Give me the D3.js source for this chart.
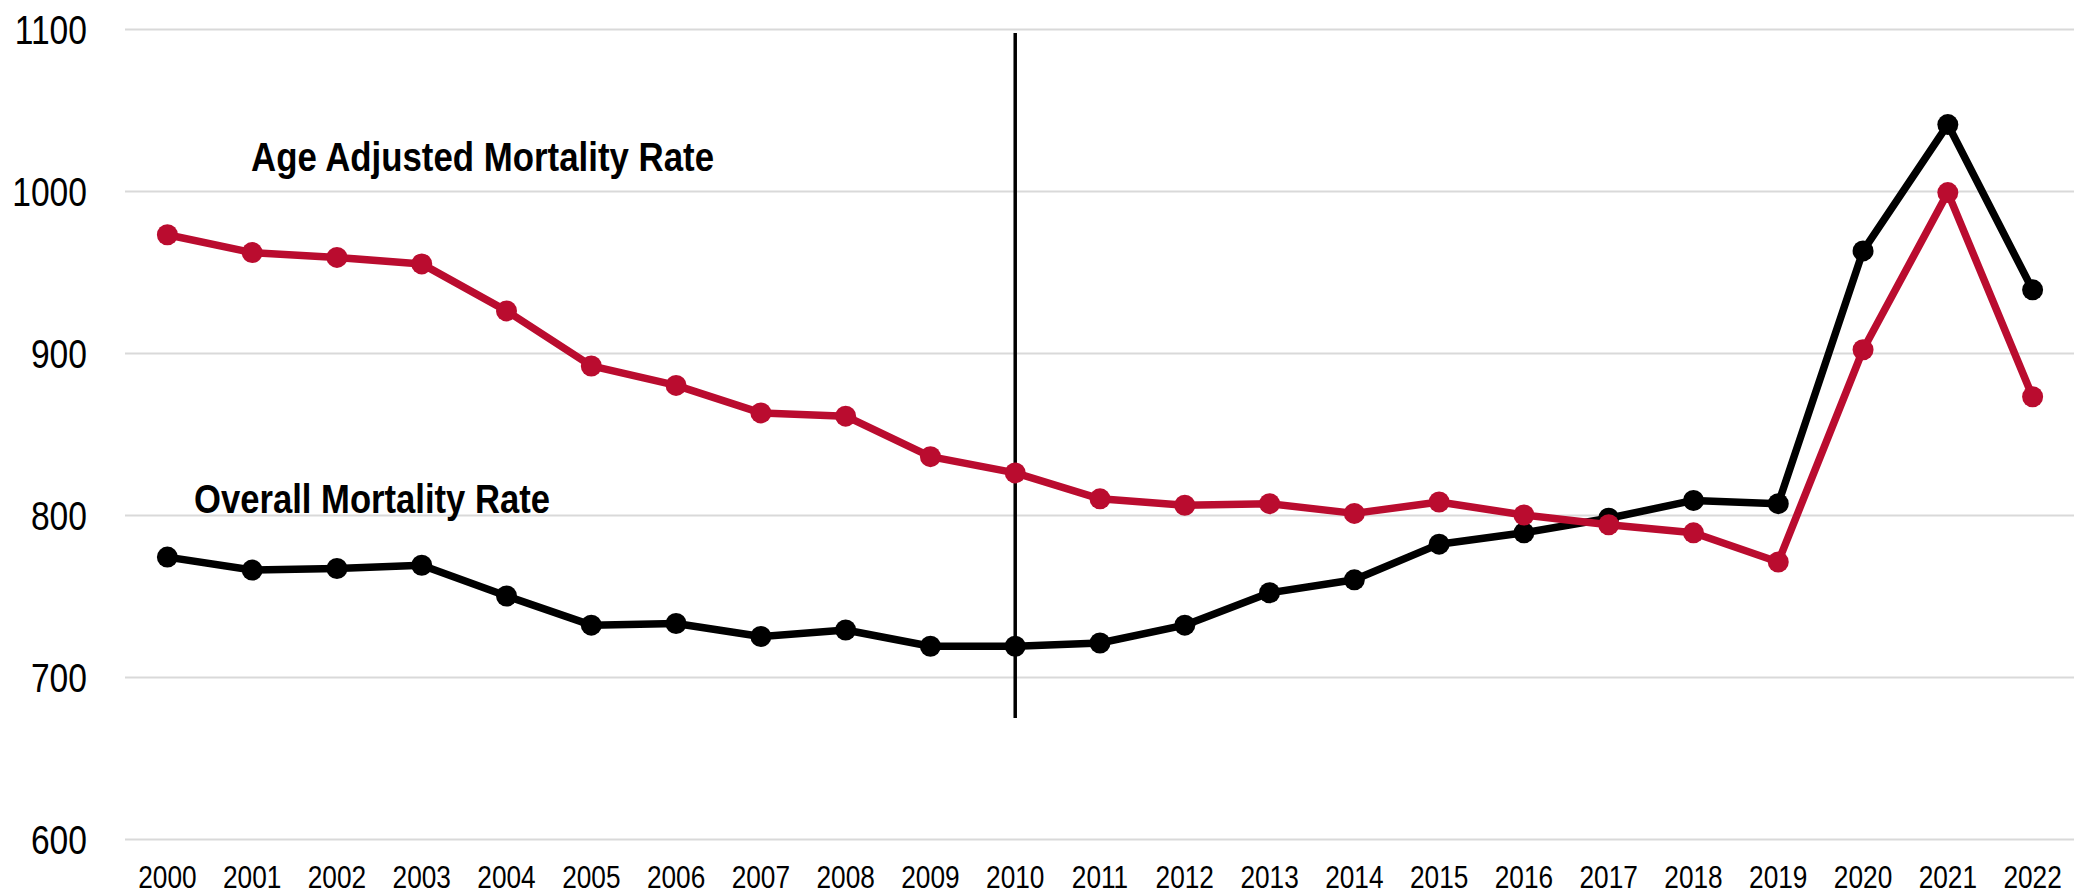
<!DOCTYPE html>
<html>
<head>
<meta charset="utf-8">
<script src="https://cdn.jsdelivr.net/npm/d3@7"></script>
<style>
  html, body { margin: 0; padding: 0; background: #fff; }
  svg text { font-family: 'Liberation Sans Narrow', 'Arial Narrow', 'Liberation Sans', Arial, sans-serif; fill: #000; }
</style>
</head>
<body>
<div id="chart"></div>
<script>
var years = ['2000', '2001', '2002', '2003', '2004', '2005', '2006', '2007', '2008', '2009', '2010',
             '2011', '2012', '2013', '2014', '2015', '2016', '2017', '2018', '2019', '2020', '2021', '2022'];

var overallRate = [774, 766, 767, 769, 750, 732, 733, 725, 729, 719, 719,
                   721, 732, 752, 760, 782, 789, 798, 809, 807, 963, 1041, 939];

var ageAdjustedRate = [973, 962, 959, 955, 926, 892, 880, 863, 861, 836, 826,
                       810, 806, 807, 801, 808, 800, 794, 789, 771, 902, 999, 873];

var yTicks = [600, 700, 800, 900, 1000, 1100];

var markerYear = '2010';

(function() {
  'use strict';

  var
    WIDTH = 2074,
    HEIGHT = 895,
    NARROW = 0.82,
    RED = '#ba0c2f',
    BLACK = '#000000';

  var svg = d3.select('#chart')
              .append('svg')
              .attr('width', WIDTH)
              .attr('height', HEIGHT);

  var x = d3.scaleBand()
            .domain(years)
            .range([125, 2075]);

  var y = d3.scaleLinear()
            .domain([600, 1100])
            .range([839, 29]);

  // grid + y labels
  var yAxis = d3.axisLeft(y)
                .tickValues(yTicks)
                .tickFormat(d3.format('d'))
                .tickSize(-(2074 - 125))
                .tickPadding(38);

  var gy = svg.append('g')
              .attr('transform', 'translate(125,0)')
              .call(yAxis);

  gy.select('.domain').remove();
  gy.selectAll('.tick line')
    .attr('stroke', '#d9d9d9')
    .attr('stroke-width', 2);
  gy.selectAll('.tick text')
    .attr('font-size', 41)
    .attr('x', -38 / NARROW)
    .attr('dy', '0.36em')
    .attr('transform', 'scale(' + NARROW + ',1)')
    .style('font-family', null);

  // x labels
  var xAxis = d3.axisBottom(x)
                .tickSize(0)
                .tickPadding(0);

  var gx = svg.append('g')
              .attr('transform', 'translate(0,865)')
              .call(xAxis);

  gx.select('.domain').remove();
  gx.selectAll('.tick text')
    .attr('font-size', 32)
    .attr('dy', '0.71em')
    .attr('transform', 'scale(' + NARROW + ',1)')
    .style('font-family', null);

  // vertical marker at 2010
  var cx = function(d, i) { return x(years[i]) + x.bandwidth() / 2; };

  svg.append('line')
     .attr('x1', x(markerYear) + x.bandwidth() / 2)
     .attr('x2', x(markerYear) + x.bandwidth() / 2)
     .attr('y1', 33)
     .attr('y2', 718)
     .attr('stroke', BLACK)
     .attr('stroke-width', 3.5);

  var drawSeries = function(values, color) {
    var line = d3.line()
                 .x(cx)
                 .y(function(d) { return y(d); });

    svg.append('path')
       .datum(values)
       .attr('fill', 'none')
       .attr('stroke', color)
       .attr('stroke-width', 7.5)
       .attr('stroke-linejoin', 'round')
       .attr('d', line);

    svg.append('g')
       .selectAll('circle')
       .data(values)
       .enter()
       .append('circle')
       .attr('cx', cx)
       .attr('cy', function(d) { return y(d); })
       .attr('r', 10.5)
       .attr('fill', color);
  };

  drawSeries(overallRate, BLACK);
  drawSeries(ageAdjustedRate, RED);

  // series labels
  svg.append('text')
     .attr('x', 251)
     .attr('y', 171)
     .attr('font-size', 40)
     .attr('font-weight', 'bold')
     .attr('textLength', 463)
     .attr('lengthAdjust', 'spacingAndGlyphs')
     .text('Age Adjusted Mortality Rate');

  svg.append('text')
     .attr('x', 194)
     .attr('y', 513)
     .attr('font-size', 40)
     .attr('font-weight', 'bold')
     .attr('textLength', 356)
     .attr('lengthAdjust', 'spacingAndGlyphs')
     .text('Overall Mortality Rate');
})();
</script>
</body>
</html>
